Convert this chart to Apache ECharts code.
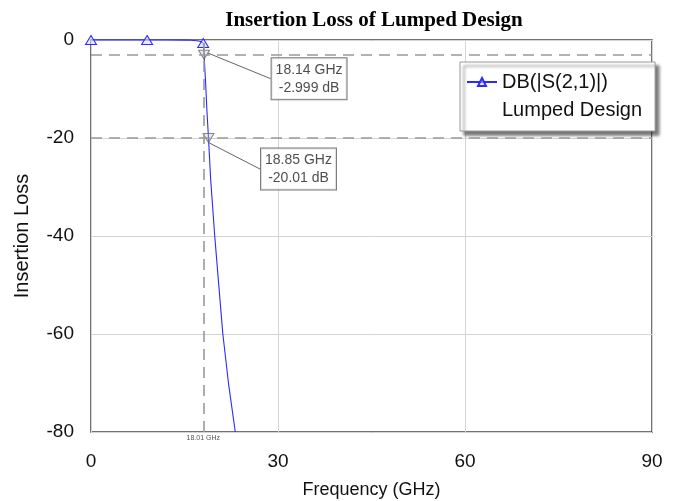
<!DOCTYPE html>
<html>
<head>
<meta charset="utf-8">
<script src="https://cdn.jsdelivr.net/npm/echarts@6/dist/echarts.min.js"></script>
<style>
html,body{margin:0;padding:0;background:#fff;}
#chart{width:676px;height:501px;}
</style>
</head>
<body>
<div id="chart"></div>
<script>
// ---- data ----
var freq = [0, 3, 6, 9, 12, 15, 16, 17, 17.6, 18, 18.14, 18.4, 18.6, 18.85, 19.2, 19.85, 20.4, 21.15, 22.1, 23.15];
var loss = [0, 0, 0, 0, 0, -0.02, -0.05, -0.15, -0.3, -0.6, -2.999, -9, -14.5, -20.01, -28.5, -40, -48.5, -60, -70.5, -80];
var triangleFreqs = [0, 9, 18];
var markerFreq = [18.14, 18.85];
var markerLoss = [-2.999, -20.01];
var markerLabels = ['18.14 GHz\n-2.999 dB', '18.85 GHz\n-20.01 dB'];
var refLevels = [-3, -20];
var refFreq = 18.01;
var refFreqLabel = '18.01 GHz';
var seriesName = 'DB(|S(2,1)|)';
var seriesName2 = 'Lumped Design';
var titleText = 'Insertion Loss of Lumped Design';
var xName = 'Frequency (GHz)';
var yName = 'Insertion Loss';

var blue = '#2b2bff';
var lineData = freq.map(function (f, i) {
  var isTri = triangleFreqs.indexOf(f) >= 0;
  return { value: [f, loss[i]], symbol: isTri ? 'triangle' : 'none' };
});
var markerData = markerFreq.map(function (f, i) {
  return { value: [f, markerLoss[i]], label: { formatter: markerLabels[i] } };
});
var labelOffsets = [[105, 24], [90, 31]];

var chart = echarts.init(document.getElementById('chart'));
chart.setOption({
  animation: false,
  backgroundColor: '#fff',
  title: {
    text: titleText,
    left: 369,
    textAlign: 'center',
    top: 5,
    textStyle: { fontFamily: 'Liberation Serif', fontWeight: 'bold', fontSize: 21, color: '#000' }
  },
  grid: { left: 91, right: 24, top: 40, bottom: 69, show: true, borderColor: '#444', borderWidth: 1.5, backgroundColor: 'transparent', outerBoundsMode: 'none', containLabel: false },
  legend: {
    orient: 'vertical',
    left: 460,
    top: 62,
    padding: [8, 13, 9, 6],
    itemGap: 4,
    itemWidth: 30,
    itemHeight: 10,
    backgroundColor: '#fff',
    borderColor: '#999',
    borderWidth: 1,
    shadowColor: 'rgba(0,0,0,0.55)',
    shadowBlur: 3,
    shadowOffsetX: 4,
    shadowOffsetY: 4,
    textStyle: { fontFamily: 'Liberation Sans', fontSize: 20, color: '#111', lineHeight: 24 },
    data: [
      { name: seriesName },
      { name: seriesName2, icon: 'rect', itemStyle: { opacity: 0 } }
    ]
  },
  xAxis: {
    type: 'value', min: 0, max: 90, interval: 30,
    name: xName, nameLocation: 'middle', nameGap: 49,
    nameTextStyle: { fontFamily: 'Liberation Sans', fontSize: 18, color: '#111' },
    axisLine: { show: false },
    axisTick: { show: false },
    axisLabel: { fontFamily: 'Liberation Sans', fontSize: 19, color: '#111', margin: 20 },
    splitLine: { show: true, lineStyle: { color: '#d4d4d4', width: 1 } }
  },
  yAxis: {
    type: 'value', min: -80, max: 0, interval: 20,
    name: yName, nameLocation: 'middle', nameGap: 59,
    nameTextStyle: { fontFamily: 'Liberation Sans', fontSize: 20, color: '#111' },
    axisLine: { show: false },
    axisTick: { show: false },
    axisLabel: { fontFamily: 'Liberation Sans', fontSize: 19, color: '#111', margin: 17, padding: [4, 0, 0, 0] },
    splitLine: { show: true, lineStyle: { color: '#d4d4d4', width: 1 } }
  },
  series: [
    {
      name: seriesName,
      type: 'line',
      data: lineData,
      symbol: 'triangle',
      symbolSize: [11, 9],
      showSymbol: true,
      showAllSymbol: true,
      clip: false,
      lineStyle: { color: blue, width: 1.1 },
      itemStyle: { color: 'rgba(220,220,255,0.6)', borderColor: blue, borderWidth: 1 },
      z: 3,
      markLine: {
        silent: true,
        symbol: 'none',
        lineStyle: { color: '#999', type: [11, 7], width: 1.6 },
        label: { show: false },
        data: refLevels.map(function (v) { return { yAxis: v }; }).concat([
          [
            { coord: [refFreq, -80], label: { show: true, position: 'start', formatter: refFreqLabel, fontSize: 7, color: '#555', fontFamily: 'Liberation Sans', distance: 3 } },
            { coord: [refFreq, 0] }
          ]
        ])
      }
    },
    {
      name: seriesName2,
      type: 'line',
      data: [],
      symbol: 'none',
      lineStyle: { opacity: 0 }
    },
    {
      name: 'markers',
      type: 'scatter',
      data: markerData,
      symbol: 'triangle',
      symbolRotate: 180,
      symbolSize: [11, 9],
      itemStyle: { color: 'rgba(200,200,200,0.4)', borderColor: '#666', borderWidth: 1 },
      z: 4,
      label: {
        show: true,
        position: 'inside',
        fontFamily: 'Liberation Sans',
        fontSize: 14,
        lineHeight: 18,
        color: '#222',
        backgroundColor: '#fff',
        borderColor: '#555',
        borderWidth: 1,
        padding: [3, 4, 2, 4]
      },
      labelLine: { show: true, lineStyle: { color: '#666', width: 1 } },
      labelLayout: function (params) {
        var o = labelOffsets[params.dataIndex];
        return { dx: o[0], dy: o[1] };
      }
    }
  ]
});
</script>
</body>
</html>
